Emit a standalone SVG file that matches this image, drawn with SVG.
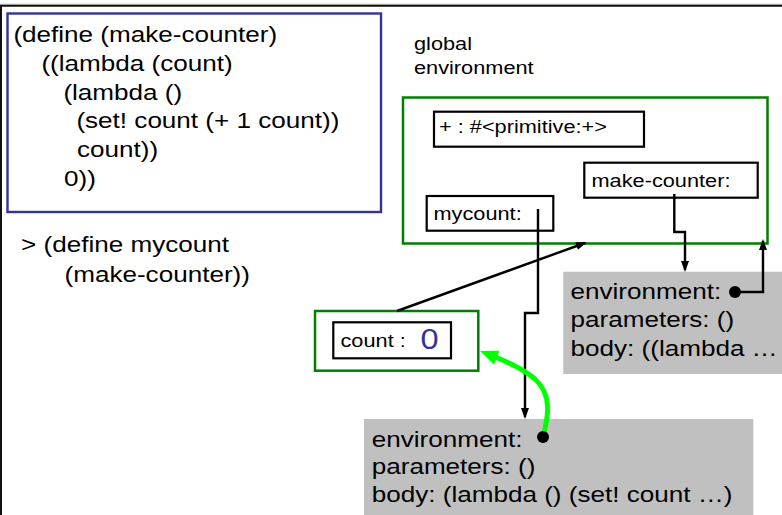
<svg xmlns="http://www.w3.org/2000/svg" width="782" height="515" viewBox="0 0 782 515">
<defs>
<style>
text { font-family: "Liberation Sans", Arial, sans-serif; fill: #000; }
.f24 { font-size: 22.9px; }
.f20 { font-size: 19.1px; }
.f30 { font-size: 28.6px; fill: #333399; }
.box { fill: #fff; stroke: #000; stroke-width: 2.2; }
.frame { fill: none; stroke: #008000; stroke-width: 2.5; }
.proc { fill: #c0c0c0; stroke: none; }
.ptr { fill: none; stroke: #000; stroke-width: 2.4; }
.dot { fill: #000; }
</style>
<marker id="ah" markerUnits="userSpaceOnUse" markerWidth="11" markerHeight="8" refX="9" refY="4" orient="auto">
<path d="M0,0 L11,4 L0,8 z" fill="#000"/>
</marker>
<marker id="gah" markerUnits="userSpaceOnUse" markerWidth="18" markerHeight="15" refX="3" refY="7.5" orient="auto">
<path d="M0,0 L18,7.5 L0,15 z" fill="#00ff00"/>
</marker>
</defs>
<rect x="0" y="0" width="782" height="515" fill="#fff"/>
<line x1="0" y1="4.2" x2="782" y2="4.2" stroke="#bbbbbb" stroke-width="1"/>
<line x1="0" y1="5.8" x2="782" y2="5.8" stroke="#111" stroke-width="2"/>
<line x1="1" y1="5" x2="1" y2="515" stroke="#111" stroke-width="2"/>

<g id="code">
<rect x="7.5" y="13.5" width="373.5" height="198.5" fill="#fff" stroke="#333399" stroke-width="2.4"/>
<text class="f24" transform="translate(13.4 42) scale(1.1388 1)">(define (make-counter)</text>
<text class="f24" transform="translate(41.4 70.7) scale(1.1388 1)">((lambda (count)</text>
<text class="f24" transform="translate(63.4 99.5) scale(1.1388 1)">(lambda ()</text>
<text class="f24" transform="translate(76.4 128.3) scale(1.1388 1)">(set! count (+ 1 count))</text>
<text class="f24" transform="translate(77 157.1) scale(1.1388 1)">count))</text>
<text class="f24" transform="translate(64 186) scale(1.1388 1)">0))</text>
</g>

<g id="repl">
<text class="f24" transform="translate(21 251.7) scale(1.1388 1)">&gt; (define mycount</text>
<text class="f24" transform="translate(64.5 281.7) scale(1.1388 1)">(make-counter))</text>
</g>

<g id="global-label">
<text class="f20" transform="translate(414 50) scale(1.1388 1)">global</text>
<text class="f20" transform="translate(414 74) scale(1.1388 1)">environment</text>
</g>

<g id="global-env">
<rect class="frame" x="403" y="97.5" width="364.5" height="146"/>
</g>

<g id="binding-plus">
<rect class="box" x="434" y="111.7" width="210" height="35"/>
<text class="f20" transform="translate(439 133.3) scale(1.1388 1)">+ : #&lt;primitive:+&gt;</text>
</g>

<g id="binding-make-counter">
<rect class="box" x="584.3" y="162.7" width="173.4" height="35"/>
<text class="f20" transform="translate(591.5 186.7) scale(1.1388 1)">make-counter:</text>
</g>

<g id="binding-mycount">
<rect class="box" x="426.7" y="196" width="126.6" height="34.7"/>
<text class="f20" transform="translate(433.5 220) scale(1.1388 1)">mycount:</text>
</g>

<g id="count-frame">
<rect class="frame" x="315" y="311" width="163.3" height="59.7"/>
<rect class="box" x="333.3" y="322.3" width="117.7" height="36"/>
<text class="f20" transform="translate(340.5 346.7) scale(1.1388 1)">count :</text>
<text class="f30" transform="translate(420.5 349.3) scale(1.1388 1)">0</text>
</g>

<g id="proc-make-counter">
<rect class="proc" x="563.3" y="271.7" width="218.7" height="102.3"/>
<text class="f24" transform="translate(570.5 298.7) scale(1.1388 1)">environment:</text>
<text class="f24" transform="translate(570.5 327.2) scale(1.1388 1)">parameters: ()</text>
<text class="f24" transform="translate(570.5 355.7) scale(1.1388 1)">body: ((lambda …</text>
</g>

<g id="proc-mycount">
<rect class="proc" x="364" y="419" width="389.3" height="96"/>
<text class="f24" transform="translate(371.7 446.5) scale(1.1388 1)">environment:</text>
<text class="f24" transform="translate(371.7 474.2) scale(1.1388 1)">parameters: ()</text>
<text class="f24" transform="translate(371.7 502) scale(1.1388 1)">body: (lambda () (set! count …)</text>
</g>

<g id="connectors">
<path class="ptr" d="M538,209 V313 H525 V417" marker-end="url(#ah)"/>
<path class="ptr" d="M674.3,194 V232 H685 V270" marker-end="url(#ah)"/>
<path class="ptr" d="M397,311 L585,243" marker-end="url(#ah)"/>
<path class="ptr" d="M735,292 H763 V241" marker-end="url(#ah)"/>
<circle class="dot" cx="735" cy="292" r="6"/>
<path d="M543,437 C548,418 553,395 535,379 C522,368 508,362 494,356.5" fill="none" stroke="#00ff00" stroke-width="5" marker-end="url(#gah)"/>
<circle class="dot" cx="543" cy="437" r="6"/>
</g>
</svg>
